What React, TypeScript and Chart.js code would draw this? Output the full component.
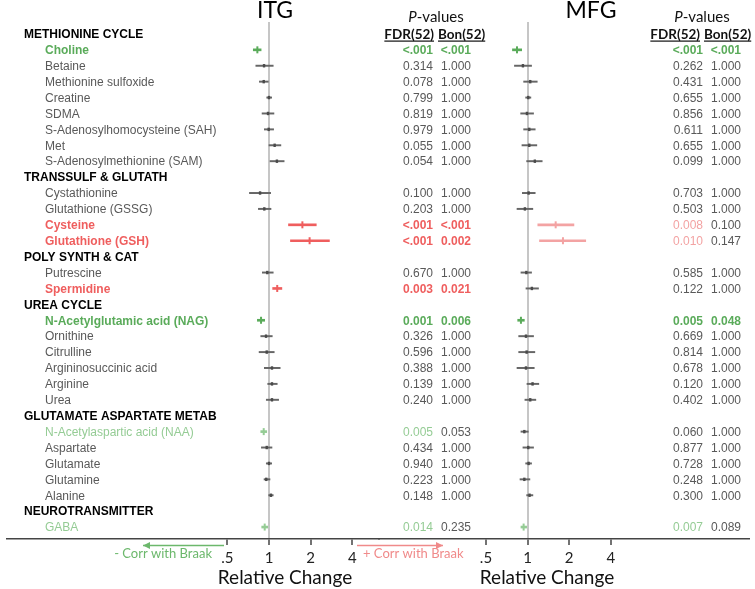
import React, { useEffect, useRef } from 'react';
import { Chart, registerables } from 'chart.js';

Chart.register(...registerables);

// ---------------- DATA ----------------
const ROW_LABELS = [
  'METHIONINE CYCLE',
  'Choline',
  'Betaine',
  'Methionine sulfoxide',
  'Creatine',
  'SDMA',
  'S-Adenosylhomocysteine (SAH)',
  'Met',
  'S-Adenosylmethionine (SAM)',
  'TRANSSULF & GLUTATH',
  'Cystathionine',
  'Glutathione (GSSG)',
  'Cysteine',
  'Glutathione (GSH)',
  'POLY SYNTH & CAT',
  'Putrescine',
  'Spermidine',
  'UREA CYCLE',
  'N-Acetylglutamic acid (NAG)',
  'Ornithine',
  'Citrulline',
  'Argininosuccinic acid',
  'Arginine',
  'Urea',
  'GLUTAMATE ASPARTATE METAB',
  'N-Acetylaspartic acid (NAA)',
  'Aspartate',
  'Glutamate',
  'Glutamine',
  'Alanine',
  'NEUROTRANSMITTER',
  'GABA',
];

const ROW_IS_HEADER = [
  true, false, false, false, false, false, false, false, false,
  true, false, false, false, false,
  true, false, false,
  true, false, false, false, false, false, false,
  true, false, false, false, false, false,
  true, false,
];

// ITG relative change: lower CI, estimate, upper CI
const ITG_LOW = [
  null, 0.77, 0.803, 0.852, 0.963, 0.891, 0.925, 1.0, 1.017,
  null, 0.722, 0.838, 1.384, 1.43,
  null, 0.895, 1.063,
  null, 0.824, 0.872, 0.848, 0.925, 0.979, 0.956,
  null, 0.872, 0.881, 0.956, 0.921, 0.995,
  null, 0.886,
];
const ITG_POINT = [
  null, 0.824, 0.921, 0.916, 1.0, 0.984, 0.995, 1.099, 1.141,
  null, 0.862, 0.925, 1.744, 1.967,
  null, 0.972, 1.147,
  null, 0.876, 0.952, 0.963, 1.051, 1.051, 1.051,
  null, 0.916, 0.963, 1.0, 0.956, 1.033,
  null, 0.931,
];
const ITG_HIGH = [
  null, 0.877, 1.073, 0.988, 1.046, 1.086, 1.08, 1.219, 1.287,
  null, 1.028, 1.034, 2.198, 2.736,
  null, 1.073, 1.239,
  null, 0.931, 1.056, 1.091, 1.205, 1.147, 1.174,
  null, 0.963, 1.051, 1.046, 1.017, 1.073,
  null, 0.979,
];

// MFG relative change: lower CI, estimate, upper CI
const MFG_LOW = [
  null, 0.777, 0.803, 0.936, 0.968, 0.891, 0.936, 0.91, 0.984,
  null, 0.916, 0.838, 1.185, 1.219,
  null, 0.895, 0.973,
  null, 0.848, 0.862, 0.862, 0.838, 0.989, 0.956,
  null, 0.895, 0.925, 0.968, 0.881, 0.984,
  null, 0.895,
];
const MFG_POINT = [
  null, 0.838, 0.925, 1.045, 1.011, 0.989, 1.028, 1.028, 1.128,
  null, 1.017, 0.956, 1.596, 1.802,
  null, 0.979, 1.074,
  null, 0.895, 0.973, 0.984, 0.973, 1.086, 1.045,
  null, 0.947, 1.011, 1.017, 0.947, 1.033,
  null, 0.936,
];
const MFG_HIGH = [
  null, 0.906, 1.068, 1.174, 1.056, 1.104, 1.135, 1.166, 1.275,
  null, 1.135, 1.091, 2.163, 2.633,
  null, 1.068, 1.199,
  null, 0.947, 1.104, 1.128, 1.117, 1.205, 1.147,
  null, 1.011, 1.104, 1.068, 1.039, 1.092,
  null, 0.984,
];

const ITG_FDR = [
  '', '<.001', '0.314', '0.078', '0.799', '0.819', '0.979', '0.055', '0.054',
  '', '0.100', '0.203', '<.001', '<.001',
  '', '0.670', '0.003',
  '', '0.001', '0.326', '0.596', '0.388', '0.139', '0.240',
  '', '0.005', '0.434', '0.940', '0.223', '0.148',
  '', '0.014',
];
const ITG_BON = [
  '', '<.001', '1.000', '1.000', '1.000', '1.000', '1.000', '1.000', '1.000',
  '', '1.000', '1.000', '<.001', '0.002',
  '', '1.000', '0.021',
  '', '0.006', '1.000', '1.000', '1.000', '1.000', '1.000',
  '', '0.053', '1.000', '1.000', '1.000', '1.000',
  '', '0.235',
];
const MFG_FDR = [
  '', '<.001', '0.262', '0.431', '0.655', '0.856', '0.611', '0.655', '0.099',
  '', '0.703', '0.503', '0.008', '0.010',
  '', '0.585', '0.122',
  '', '0.005', '0.669', '0.814', '0.678', '0.120', '0.402',
  '', '0.060', '0.877', '0.728', '0.248', '0.300',
  '', '0.007',
];
const MFG_BON = [
  '', '<.001', '1.000', '1.000', '1.000', '1.000', '1.000', '1.000', '1.000',
  '', '1.000', '1.000', '0.100', '0.147',
  '', '1.000', '1.000',
  '', '0.048', '1.000', '1.000', '1.000', '1.000', '1.000',
  '', '1.000', '1.000', '1.000', '1.000', '1.000',
  '', '0.089',
];

const AXIS_TICKS = [0.5, 1, 2, 4];
const AXIS_TICK_LABELS = ['.5', '1', '2', '4'];

// ---------------- STYLE ----------------
const TEXT_GREY = '#595959';
const MARK_GREY = '#4a4a4a';
const COLORS: Record<string, string[]> = {
  neg: [TEXT_GREY, '#95cc95', '#5aab5a'],
  pos: [TEXT_GREY, '#f3a3a3', '#ef5e5e'],
};
const ARIAL = '"Liberation Sans", Arial, sans-serif';
const CAL = 'Lato, "Open Sans", sans-serif';

const pVal = (s: string) => parseFloat(s.replace('<', ''));
function level(fdr: string, bon: string): number {
  if (!fdr) return 0;
  if (pVal(bon) < 0.05) return 2;
  if (pVal(fdr) < 0.05) return 1;
  return 0;
}

function panelDatasets(lo: any[], pt: any[], hi: any[], fdr: string[], bon: string[], axisId: string) {
  const rows = ROW_LABELS.map((_, i) => i).filter((i) => pt[i] != null);
  const lv = (i: number) => level(fdr[i], bon[i]);
  const col = (i: number) => {
    const l = lv(i);
    return l === 0 ? MARK_GREY : COLORS[pt[i] < 1 ? 'neg' : 'pos'][l];
  };
  const sigRows = rows.filter((i) => lv(i) > 0);
  const nsRows = rows.filter((i) => lv(i) === 0);
  return [
    {
      type: 'scatter',
      label: axisId + ' estimate',
      xAxisID: axisId,
      yAxisID: 'y',
      order: 0,
      data: rows.map((i) => ({ x: pt[i], y: i })),
      pointStyle: 'line',
      rotation: 90,
      pointRadius: rows.map((i) => (lv(i) ? 3.5 : 1.7)),
      pointBorderWidth: rows.map((i) => (lv(i) ? 2 : 2.4)),
      pointBorderColor: rows.map(col),
      pointBackgroundColor: rows.map(col),
      showLine: false,
      clip: false,
    },
    {
      type: 'bar',
      label: axisId + ' CI sig',
      indexAxis: 'y',
      xAxisID: axisId,
      yAxisID: 'y',
      order: 1,
      data: sigRows.map((i) => ({ x: [lo[i], hi[i]], y: i })),
      backgroundColor: sigRows.map(col),
      barThickness: 2,
      grouped: false,
      borderWidth: 0,
      clip: false,
    },
    {
      type: 'bar',
      label: axisId + ' CI',
      indexAxis: 'y',
      xAxisID: axisId,
      yAxisID: 'y',
      order: 1,
      data: nsRows.map((i) => ({ x: [lo[i], hi[i]], y: i })),
      backgroundColor: nsRows.map(() => '#666666'),
      barThickness: 1.3,
      grouped: false,
      borderWidth: 0,
      clip: false,
    },
  ];
}

function makeAxis(min: number, max: number, weight: number) {
  return {
    type: 'logarithmic',
    position: 'bottom',
    stack: 'bottomAxes',
    stackWeight: weight,
    min,
    max,
    bounds: 'data',
    beginAtZero: false,
    offset: false,
    afterBuildTicks: (scale: any) => {
      scale.ticks = AXIS_TICKS.map((v) => ({ value: v }));
    },
    afterFit: (scale: any) => {
      scale.height = 50;
    },
    ticks: {
      autoSkip: false,
      maxRotation: 0,
      minRotation: 0,
      padding: 4,
      color: '#222',
      font: { family: CAL, size: 15 },
      callback: (v: any) => {
        const k = AXIS_TICKS.indexOf(Number(v));
        return k >= 0 ? AXIS_TICK_LABELS[k] : '';
      },
    },
    grid: {
      drawOnChartArea: true,
      drawTicks: true,
      color: (c: any) => (c.tick && c.tick.value === 1 ? '#c6c6c6' : 'rgba(0,0,0,0)'),
      lineWidth: 2,
      tickColor: '#444',
      tickWidth: 1.5,
      tickLength: 6,
    },
    border: { display: true, color: '#444', width: 1.5 },
  };
}

function drawPair(ctx: CanvasRenderingContext2D, fdr: string, bon: string, pt: number, xF: number, xB: number, yb: number) {
  if (!fdr) return;
  const l = level(fdr, bon);
  const dir = pt < 1 ? 'neg' : 'pos';
  ctx.textAlign = 'right';
  ctx.font = (l === 2 ? 'bold ' : '') + '12px ' + ARIAL;
  ctx.fillStyle = l > 0 ? COLORS[dir][l] : TEXT_GREY;
  ctx.fillText(fdr, xF, yb);
  ctx.fillStyle = l === 2 ? COLORS[dir][2] : TEXT_GREY;
  ctx.fillText(bon, xB, yb);
}

function drawPHeader(ctx: CanvasRenderingContext2D, cx: number, yb: number) {
  ctx.fillStyle = '#111';
  ctx.textAlign = 'left';
  ctx.font = 'italic 15px ' + CAL;
  const w1 = ctx.measureText('P').width;
  ctx.font = '15px ' + CAL;
  const w2 = ctx.measureText('-values').width;
  const x0 = cx - (w1 + w2) / 2;
  ctx.font = 'italic 15px ' + CAL;
  ctx.fillText('P', x0, yb);
  ctx.font = '15px ' + CAL;
  ctx.fillText('-values', x0 + w1, yb);
}

function drawUnderlined(ctx: CanvasRenderingContext2D, text: string, x: number, yb: number, align: 'left' | 'right') {
  ctx.font = 'bold 13.5px ' + CAL;
  ctx.fillStyle = '#111';
  ctx.textAlign = align;
  ctx.fillText(text, x, yb);
  const w = ctx.measureText(text).width;
  const x0 = align === 'left' ? x : x - w;
  ctx.fillRect(x0, yb + 2, w, 1.2);
}

function drawArrow(ctx: CanvasRenderingContext2D, x0: number, x1: number, y: number, headAtEnd: boolean, color: string) {
  ctx.strokeStyle = color;
  ctx.fillStyle = color;
  ctx.lineWidth = 1.3;
  ctx.beginPath();
  ctx.moveTo(x0, y);
  ctx.lineTo(x1, y);
  ctx.stroke();
  const hx = headAtEnd ? x1 : x0;
  const d = headAtEnd ? -7 : 7;
  ctx.beginPath();
  ctx.moveTo(hx, y);
  ctx.lineTo(hx + d, y - 3.5);
  ctx.lineTo(hx + d, y + 3.5);
  ctx.closePath();
  ctx.fill();
}

const annotationPlugin = {
  id: 'forestAnnotations',
  afterDraw(chart: any) {
    const ctx: CanvasRenderingContext2D = chart.ctx;
    const yScale = chart.scales.y;
    ctx.save();
    ctx.textBaseline = 'alphabetic';

    // panel titles
    ctx.fillStyle = '#000';
    ctx.font = '23px ' + CAL;
    ctx.textAlign = 'center';
    ctx.fillText('ITG', 275, 17.5);
    ctx.fillText('MFG', 591, 17.5);

    // p-value headers
    drawPHeader(ctx, 436, 21.5);
    drawPHeader(ctx, 702, 21.5);
    drawUnderlined(ctx, 'FDR(52)', 434, 38.5, 'right');
    drawUnderlined(ctx, 'Bon(52)', 438, 38.5, 'left');
    drawUnderlined(ctx, 'FDR(52)', 700, 38.5, 'right');
    drawUnderlined(ctx, 'Bon(52)', 704, 38.5, 'left');

    // rows
    ROW_LABELS.forEach((label, i) => {
      const yb = yScale.getPixelForValue(i) + 4.3;
      ctx.textAlign = 'left';
      if (ROW_IS_HEADER[i]) {
        ctx.font = 'bold 12px ' + ARIAL;
        ctx.fillStyle = '#000';
        ctx.fillText(label, 24, yb);
        return;
      }
      const l = level(ITG_FDR[i], ITG_BON[i]);
      const dir = (ITG_POINT[i] as number) < 1 ? 'neg' : 'pos';
      ctx.font = (l === 2 ? 'bold ' : '') + '12px ' + ARIAL;
      ctx.fillStyle = l === 0 ? TEXT_GREY : COLORS[dir][l];
      ctx.fillText(label, 45, yb);
      drawPair(ctx, ITG_FDR[i], ITG_BON[i], ITG_POINT[i] as number, 433, 471, yb);
      drawPair(ctx, MFG_FDR[i], MFG_BON[i], MFG_POINT[i] as number, 703, 741, yb);
    });

    // direction arrows
    drawArrow(ctx, 143, 224, 545.5, false, '#6cb86c');
    drawArrow(ctx, 357, 443, 545.5, true, '#f08a8a');
    ctx.font = '13px ' + CAL;
    ctx.textAlign = 'right';
    ctx.fillStyle = '#6cb86c';
    ctx.fillText('- Corr with Braak', 212, 557.5);
    ctx.textAlign = 'left';
    ctx.fillStyle = '#f08a8a';
    ctx.fillText('+ Corr with Braak', 363, 557.5);

    // axis titles
    ctx.font = '19px ' + CAL;
    ctx.textAlign = 'center';
    ctx.fillStyle = '#111';
    ctx.fillText('Relative Change', 285, 584);
    ctx.fillText('Relative Change', 547, 584);

    ctx.restore();
  },
};

export default function App() {
  const ref = useRef<HTMLCanvasElement>(null);
  useEffect(() => {
    document.body.style.margin = '0';
    const canvas = ref.current;
    if (!canvas) return;
    const datasets: any[] = [
      ...panelDatasets(ITG_LOW, ITG_POINT, ITG_HIGH, ITG_FDR, ITG_BON, 'x1'),
      ...panelDatasets(MFG_LOW, MFG_POINT, MFG_HIGH, MFG_FDR, MFG_BON, 'x2'),
    ];
    const chart = new Chart(canvas, {
      type: 'scatter',
      data: { datasets },
      options: {
        responsive: false,
        animation: false,
        events: [],
        layout: { padding: { left: 4, right: 2, top: 22, bottom: 0 } },
        plugins: { legend: { display: false }, tooltip: { enabled: false } },
        scales: {
          y: {
            type: 'linear',
            display: false,
            reverse: true,
            min: -0.75,
            max: 31.75,
            offset: false,
            grid: { offset: false },
          },
          x1: makeAxis(Math.pow(2, -6.3095), Math.pow(2, 2.643), 376),
          x2: makeAxis(Math.pow(2, -3.571), Math.pow(2, 5.31), 373),
        },
      } as any,
      plugins: [annotationPlugin],
    } as any);
    return () => chart.destroy();
  }, []);
  return (
    <div style={{ width: 755, height: 589 }}>
      <canvas ref={ref} width={755} height={589} style={{ display: 'block' }} />
    </div>
  );
}
